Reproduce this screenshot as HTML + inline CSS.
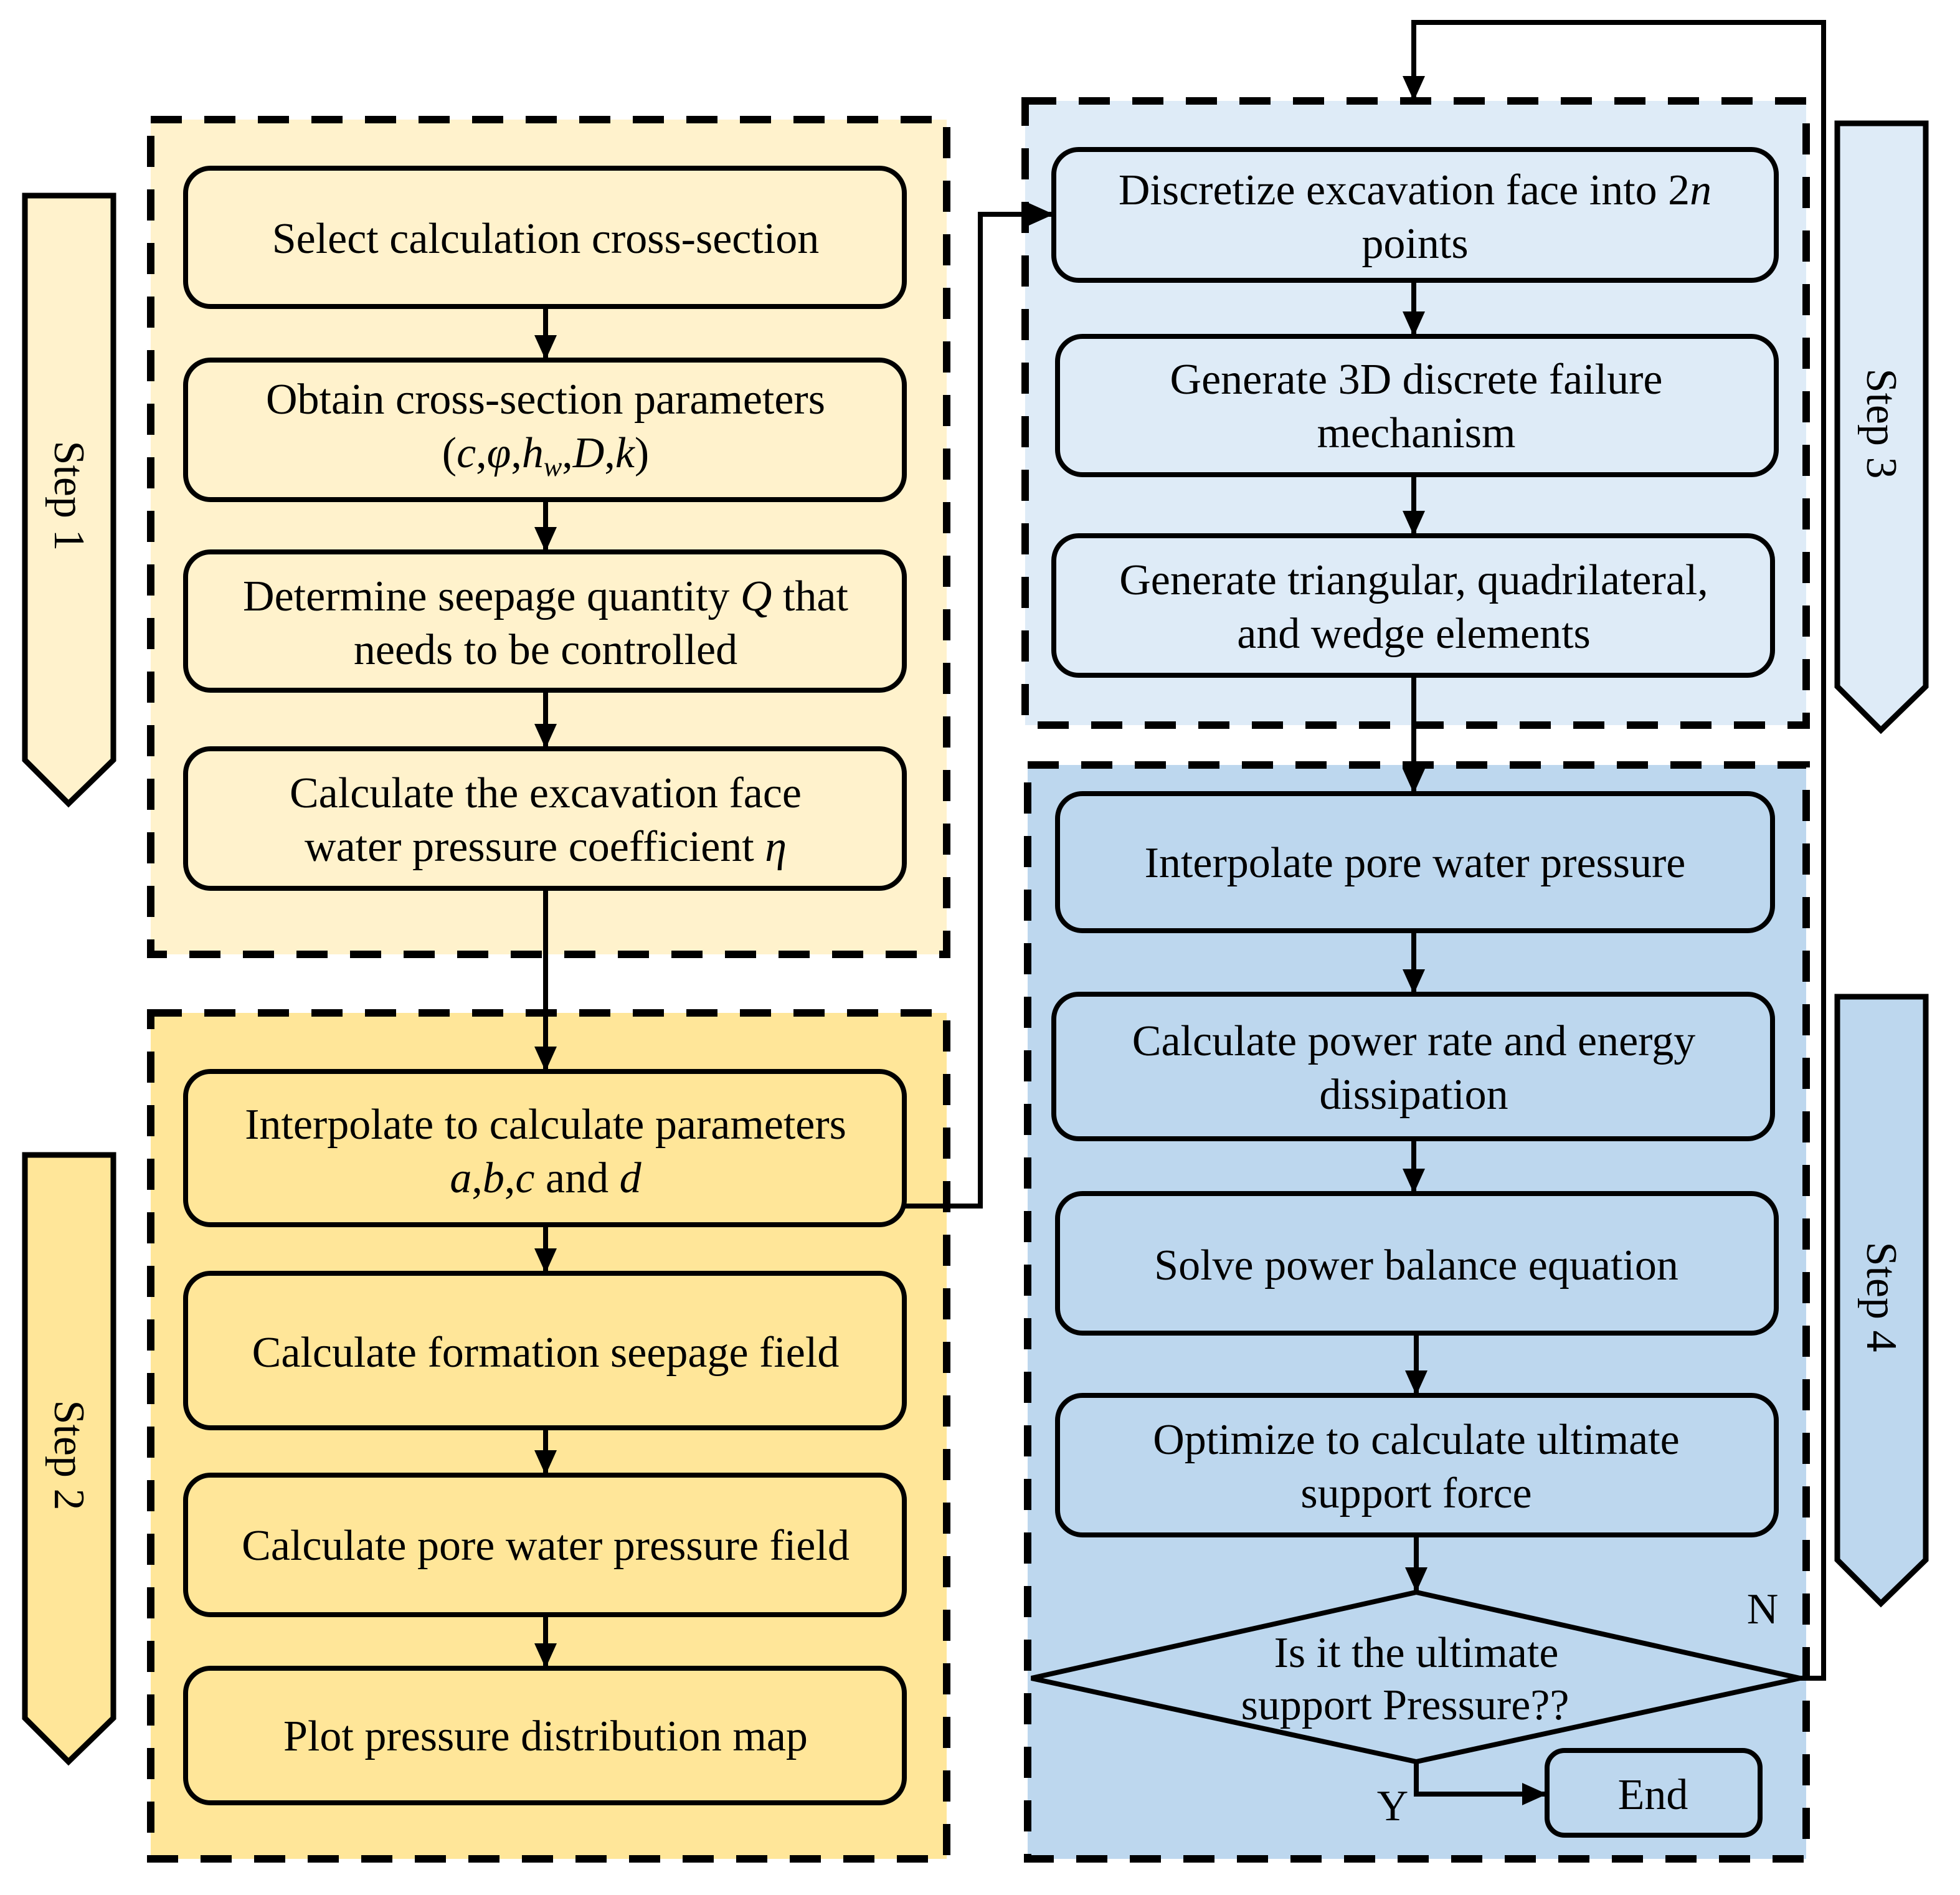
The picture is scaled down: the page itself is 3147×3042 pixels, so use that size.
<!DOCTYPE html>
<html><head><meta charset="utf-8"><style>
html,body{margin:0;padding:0;background:#fff;}
svg{display:block;}
text{font-family:"Liberation Serif","Times New Roman",serif;font-size:35px;fill:#000;}
</style></head><body>
<svg width="3147" height="3042" viewBox="0 0 1573.5 1521" xmlns="http://www.w3.org/2000/svg">
<defs>
<marker id="ah" markerWidth="20" markerHeight="18" refX="20" refY="9" orient="auto" markerUnits="userSpaceOnUse">
<path d="M0,0 L20,9 L0,18 Z" fill="#000"/></marker>
</defs>
<rect x="121" y="96" width="639" height="670" fill="#FFF2CC" stroke="#000" stroke-width="6" stroke-dasharray="25,18"/>
<rect x="121" y="813" width="639" height="679" fill="#FFE699" stroke="#000" stroke-width="6" stroke-dasharray="25,18"/>
<rect x="823" y="81" width="627" height="501" fill="#DEEBF7" stroke="#000" stroke-width="6" stroke-dasharray="25,18"/>
<rect x="825" y="614" width="625" height="878" fill="#BDD7EE" stroke="#000" stroke-width="6" stroke-dasharray="25,18"/>

<g stroke="#000" stroke-width="4.5">
<path d="M20,157 H91 V610 L55,645 L20,610 Z" fill="#FFF2CC"/>
<path d="M20,927 H91 V1379 L55,1414 L20,1379 Z" fill="#FFE699"/>
<path d="M1475,99 H1546 V551 L1510,586 L1475,551 Z" fill="#DEEBF7"/>
<path d="M1475,800 H1546 V1252 L1510,1287 L1475,1252 Z" fill="#BDD7EE"/>
</g>
<text transform="translate(44,398) rotate(90)" text-anchor="middle">Step 1</text>
<text transform="translate(44,1168) rotate(90)" text-anchor="middle">Step 2</text>
<text transform="translate(1499,340) rotate(90)" text-anchor="middle">Step 3</text>
<text transform="translate(1499,1041) rotate(90)" text-anchor="middle">Step 4</text>

<g stroke="#000" stroke-width="4" fill="none">
<line x1="438" y1="246" x2="438" y2="289" marker-end="url(#ah)"/>
<line x1="438" y1="401" x2="438" y2="443" marker-end="url(#ah)"/>
<line x1="438" y1="554" x2="438" y2="601" marker-end="url(#ah)"/>
<line x1="438" y1="713" x2="438" y2="860" marker-end="url(#ah)"/>
<line x1="438" y1="983" x2="438" y2="1022" marker-end="url(#ah)"/>
<line x1="438" y1="1146" x2="438" y2="1184" marker-end="url(#ah)"/>
<line x1="438" y1="1296" x2="438" y2="1339" marker-end="url(#ah)"/>
<polyline points="726,968 787,968 787,172 846,172" marker-end="url(#ah)"/>
<line x1="1135" y1="225" x2="1135" y2="270" marker-end="url(#ah)"/>
<line x1="1135" y1="381" x2="1135" y2="430" marker-end="url(#ah)"/>
<line x1="1135" y1="542" x2="1135" y2="637" marker-end="url(#ah)"/>
<line x1="1135" y1="747" x2="1135" y2="798" marker-end="url(#ah)"/>
<line x1="1135" y1="914" x2="1135" y2="958" marker-end="url(#ah)"/>
<line x1="1137" y1="1070" x2="1137" y2="1120" marker-end="url(#ah)"/>
<line x1="1137" y1="1232" x2="1137" y2="1278" marker-end="url(#ah)"/>
<polyline points="1445,1347 1464,1347 1464,18 1135,18 1135,81" marker-end="url(#ah)"/>
<polyline points="1137,1414 1137,1440 1242,1440" marker-end="url(#ah)"/>
</g>

<g stroke="#000" stroke-width="4">
<rect x="149" y="135" width="577" height="111" rx="20" fill="#FFF2CC"/>
<rect x="149" y="289" width="577" height="112" rx="20" fill="#FFF2CC"/>
<rect x="149" y="443" width="577" height="111" rx="20" fill="#FFF2CC"/>
<rect x="149" y="601" width="577" height="112" rx="20" fill="#FFF2CC"/>
<rect x="149" y="860" width="577" height="123" rx="20" fill="#FFE699"/>
<rect x="149" y="1022" width="577" height="124" rx="20" fill="#FFE699"/>
<rect x="149" y="1184" width="577" height="112" rx="20" fill="#FFE699"/>
<rect x="149" y="1339" width="577" height="108" rx="20" fill="#FFE699"/>
<rect x="846" y="120" width="580" height="105" rx="20" fill="#DEEBF7"/>
<rect x="849" y="270" width="577" height="111" rx="20" fill="#DEEBF7"/>
<rect x="846" y="430" width="577" height="112" rx="20" fill="#DEEBF7"/>
<rect x="849" y="637" width="574" height="110" rx="20" fill="#BDD7EE"/>
<rect x="846" y="798" width="577" height="116" rx="20" fill="#BDD7EE"/>
<rect x="849" y="958" width="577" height="112" rx="20" fill="#BDD7EE"/>
<rect x="849" y="1120" width="577" height="112" rx="20" fill="#BDD7EE"/>
<path d="M828,1347 L1137,1278 L1445,1347 L1137,1414 Z" fill="#BDD7EE"/>
<rect x="1242" y="1405" width="171" height="68" rx="14" fill="#BDD7EE"/>
</g>

<g text-anchor="middle">
<text x="438" y="203">Select calculation cross-section</text>
<text x="438" y="332">Obtain cross-section parameters</text>
<text x="438" y="375">(<tspan font-style="italic">c</tspan>,<tspan font-style="italic">φ</tspan>,<tspan font-style="italic">h</tspan><tspan font-style="italic" font-size="22" dy="7">w</tspan><tspan dy="-7">,</tspan><tspan font-style="italic">D</tspan>,<tspan font-style="italic">k</tspan>)</text>
<text x="438" y="490">Determine seepage quantity <tspan font-style="italic">Q</tspan> that</text>
<text x="438" y="533">needs to be controlled</text>
<text x="438" y="648">Calculate the excavation face</text>
<text x="438" y="691">water pressure coefficient <tspan font-style="italic">η</tspan></text>
<text x="438" y="914">Interpolate to calculate parameters</text>
<text x="438" y="957"><tspan font-style="italic">a</tspan>,<tspan font-style="italic">b</tspan>,<tspan font-style="italic">c</tspan> and <tspan font-style="italic">d</tspan></text>
<text x="438" y="1097">Calculate formation seepage field</text>
<text x="438" y="1252">Calculate pore water pressure field</text>
<text x="438" y="1405">Plot pressure distribution map</text>
<text x="1136" y="164">Discretize excavation face into 2<tspan font-style="italic">n</tspan></text>
<text x="1136" y="207">points</text>
<text x="1137" y="316">Generate 3D discrete failure</text>
<text x="1137" y="359">mechanism</text>
<text x="1135" y="477">Generate triangular, quadrilateral,</text>
<text x="1135" y="520">and wedge elements</text>
<text x="1136" y="704">Interpolate pore water pressure</text>
<text x="1135" y="847">Calculate power rate and energy</text>
<text x="1135" y="890">dissipation</text>
<text x="1137" y="1027">Solve power balance equation</text>
<text x="1137" y="1167">Optimize to calculate ultimate</text>
<text x="1137" y="1210">support force</text>
<text x="1137" y="1338">Is it the ultimate</text>
<text x="1128" y="1380">support Pressure??</text>
<text x="1327" y="1452">End</text>
<text x="1415" y="1303">N</text>
<text x="1118" y="1461">Y</text>
</g>
</svg>
</body></html>
